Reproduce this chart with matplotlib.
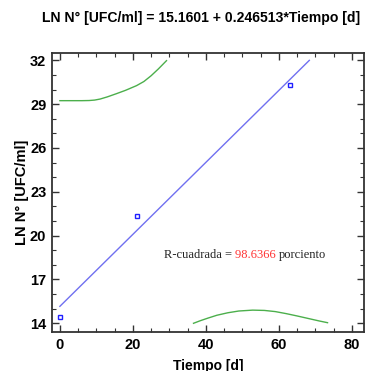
import matplotlib
matplotlib.use("Agg")
import matplotlib.pyplot as plt
import numpy as np
from matplotlib.ticker import MultipleLocator

# Data
tiempo = [0, 21, 63]
ln_n = [14.4, 21.35, 30.3]
intercept = 15.1601
slope = 0.246513
r2 = "98.6366"

# upper green band
up_x = [0, 3, 6, 8, 9.5, 11, 13, 15.5, 18, 21, 23, 25, 27, 29.2]
up_y = [29.24, 29.24, 29.24, 29.25, 29.28, 29.35, 29.5, 29.72, 29.95, 30.27, 30.55, 30.95, 31.42, 31.98]
# lower green band
lo_x = [36.6, 38.5, 40.5, 43, 46, 49, 52.8, 56, 59, 62, 65, 68, 71, 73.3]
lo_y = [14.0, 14.18, 14.35, 14.55, 14.72, 14.84, 14.9, 14.88, 14.8, 14.66, 14.5, 14.33, 14.16, 14.04]

fig = plt.figure(figsize=(3.73, 3.71), dpi=100)
ax = fig.add_axes([0.139, 0.105, 0.837, 0.752])

xl = np.linspace(0, (32 - intercept) / slope, 100)
ax.plot(xl, intercept + slope * xl, color="#7070f0", lw=1.0)
ax.plot(up_x, up_y, color="#4caf4c", lw=1.0)
ax.plot(lo_x, lo_y, color="#4caf4c", lw=1.0)
ax.plot(tiempo, ln_n, ls="none", marker="s", ms=3.5, mfc="none", mec="#2020ff", mew=1.0)

ax.set_xlim(-2.2, 83.3)
ax.set_ylim(13.4, 32.5)
ax.set_xticks([0, 20, 40, 60, 80])
ax.set_yticks([14, 17, 20, 23, 26, 29, 32])
ax.xaxis.set_minor_locator(MultipleLocator(5))
ax.yaxis.set_minor_locator(MultipleLocator(1))
ax.tick_params(which="both", direction="in", top=True, right=True, color="#333333")
ax.tick_params(which="major", length=5, width=1, pad=4)
ax.tick_params(which="minor", length=3, width=0.8)
for s in ax.spines.values():
    s.set_color("#333333")
    s.set_linewidth(1.3)
for lab in ax.get_xticklabels() + ax.get_yticklabels():
    lab.set_fontfamily("Liberation Sans")
    lab.set_fontweight("bold")
    lab.set_fontsize(10.5)

ax.set_xlabel("Tiempo [d]", fontfamily="Liberation Sans", fontweight="bold", fontsize=10, labelpad=5)
ax.set_ylabel("LN N° [UFC/ml]", fontfamily="Liberation Sans", fontweight="bold", fontsize=10.5, labelpad=1)
fig.text(0.54, 0.952, "LN N° [UFC/ml] = 15.1601 + 0.246513*Tiempo [d]",
         ha="center", va="center", fontfamily="Liberation Sans", fontweight="bold", fontsize=10.1)

# R-squared text
ty = 0.276
t1 = ax.text(0.36, ty, "R-cuadrada = ", transform=ax.transAxes, fontfamily="Liberation Serif",
             fontsize=9, color="#222222", ha="left", va="center")
fig.canvas.draw()
bb = t1.get_window_extent()
inv = ax.transAxes.inverted()
x2 = inv.transform((bb.x1, bb.y0))[0]
t2 = ax.text(x2, ty, r2 + " ", transform=ax.transAxes, fontfamily="Liberation Serif",
             fontsize=9, color="#ff3333", ha="left", va="center")
fig.canvas.draw()
bb2 = t2.get_window_extent()
x3 = inv.transform((bb2.x1, bb2.y0))[0]
ax.text(x3, ty, "porciento", transform=ax.transAxes, fontfamily="Liberation Serif",
        fontsize=9, color="#222222", ha="left", va="center")

fig.savefig("out.png", dpi=100)
